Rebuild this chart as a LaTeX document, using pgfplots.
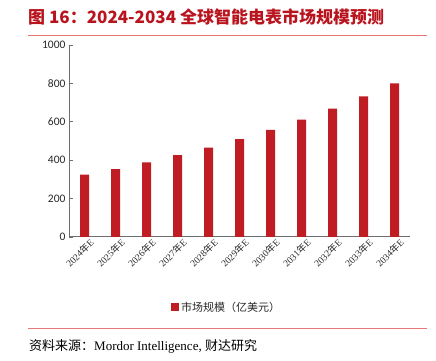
\documentclass[border=0pt]{standalone}
\usepackage{pgfplots}
\pgfplotsset{compat=1.18}
\usepackage{fontspec}
\setmainfont{Liberation Serif}
\setsansfont{Carlito}
\newfontfamily\cjk{Noto Sans CJK SC}
\definecolor{barred}{RGB}{192,28,36}
\definecolor{titlered}{RGB}{185,20,30}
\definecolor{linepink}{RGB}{232,120,120}
\definecolor{axgray}{RGB}{110,110,110}
\definecolor{txtgray}{RGB}{40,40,40}
\begin{document}
\begin{tikzpicture}
\useasboundingbox (0pt,0pt) rectangle (436pt,361pt);
% title
\node[anchor=west, text=titlered, font=\cjk\bfseries\fontsize{17}{19}\selectfont, inner sep=0pt] at (28pt,344pt) {图 16：2024-2034 全球智能电表市场规模预测};
\draw[linepink, line width=0.7pt] (28pt,326pt) -- (427pt,326pt);
% footer
\draw[linepink, line width=0.7pt] (28pt,33pt) -- (427pt,33pt);
\node[anchor=west, text=black, inner sep=0pt, font=\fontsize{13}{15}\selectfont] at (29pt,15pt) {{\cjk 资料来源：}Mordor Intelligence, {\cjk 财达研究}};
\begin{axis}[
  at={(69pt,124pt)}, anchor=south west,
  scale only axis, width=341pt, height=192pt,
  ymin=0, ymax=1000, ytick={0,200,...,1000},
  xmin=-0.5, xmax=10.5,
  xtick={0,...,10},
  xticklabels={2024{\cjk 年}E,2025{\cjk 年}E,2026{\cjk 年}E,2027{\cjk 年}E,2028{\cjk 年}E,2029{\cjk 年}E,2030{\cjk 年}E,2031{\cjk 年}E,2032{\cjk 年}E,2033{\cjk 年}E,2034{\cjk 年}E},
  xticklabel style={rotate=45, anchor=north east, font=\fontsize{9.5}{10}\selectfont, text=txtgray, inner sep=0.5pt, yshift=-3pt, xshift=3pt},
  yticklabel style={font=\sffamily\fontsize{11.5}{12}\selectfont, text=txtgray},
  /pgf/number format/assume math mode=true,
  /pgf/number format/1000 sep={},
  axis x line*=bottom, axis y line*=left,
  axis line style={axgray, line width=1pt},
  x tick style={draw=none},
  y tick style={axgray, line width=0.8pt},
  tick align=inside, major tick length=4pt,
  ytick pos=left,
  legend style={at={(0.462,-0.365)}, anchor=center, draw=none, font=\cjk\fontsize{11}{12}\selectfont, text=txtgray},
  legend image code/.code={\fill[barred] (0pt,-4pt) rectangle (8pt,4pt);},
]
\addplot[ybar, bar width=9pt, fill=barred, draw=none] coordinates {
 (0,325) (1,354) (2,389) (3,426) (4,465) (5,510) (6,558) (7,611) (8,668) (9,733) (10,800)};
\addlegendentry{市场规模（亿美元）}
\end{axis}
\end{tikzpicture}
\end{document}
